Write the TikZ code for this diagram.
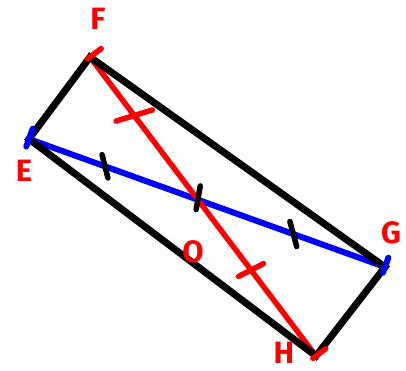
\documentclass[tikz,border=0pt]{standalone}
\usepackage{fontspec}
\setmainfont{Fira Sans}
\usetikzlibrary{calc}

\begin{document}
\begin{tikzpicture}[
    x=1bp, y=-1bp,
    side/.style={
        draw=black,
        line width=7bp,
        line join=miter,
        line cap=round
    },
    diagEG/.style={
        draw=blue,
        line width=6bp,
        line cap=round
    },
    diagFH/.style={
        draw=red,
        line width=5.5bp,
        line cap=round
    },
    tick/.style={
        draw=black,
        line width=5.5bp,
        line cap=round
    },
    vlabel/.style={
        text=red,
        font=\fontsize{31}{31}\selectfont\bfseries,
        inner sep=0pt
    }
]
\useasboundingbox (0,0) rectangle (406,371);

% Corners
\coordinate (E) at (29,139);
\coordinate (F) at (90,57);
\coordinate (G) at (385,267);
\coordinate (H) at (316,356);
\coordinate (O) at (intersection of E--G and F--H);

% Diagonals
\draw [diagEG] (E) -- (G);
\draw [diagFH] (F) -- (H);

% Rectangle
\draw [side] (E) -- (F) -- (G) -- (H) -- cycle;

% End marks
\draw [diagEG] ($(E)!11bp!90:(G)$) -- ($(E)!8bp!-90:(G)$);
\draw [diagEG] ($(G)!6bp!90:(E)$) -- ($(G)!10bp!-90:(E)$);
\draw [diagFH] ($(F)!14bp!90:(H)$) -- ($(F)!3bp!-90:(H)$);
\draw [diagFH] ($(H)!12bp!-90:(F)$) -- ($(H)!4bp!90:(F)$);

% Equal halves
\draw [tick] ($(E)!0.45!(O)!12bp!124:(O)$) -- ($(E)!0.45!(O)!12bp!-56:(O)$);
\draw [tick] ($(O)!0.51!(G)!13bp!125:(G)$) -- ($(O)!0.51!(G)!13bp!-55:(G)$);
\draw [tick] ($(O)!14bp!100:(G)$) -- ($(O)!10bp!-80:(G)$);
\draw [diagFH] ($(F)!0.41!(O)!19bp!70:(O)$) -- ($(F)!0.41!(O)!19bp!-110:(O)$);
\draw [diagFH] ($(O)!0.45!(H)!14bp!80:(H)$) -- ($(O)!0.45!(H)!14bp!-100:(H)$);

% Labels
\node (lF) [vlabel] at (98,19) {F};
\node (lE) [vlabel] at (24,171) {E};
\node (lG) [vlabel] at (391,233) {G};
\node (lH) [vlabel] at (284,353) {H};
\node (lO) [vlabel] at (193,252) {O};

\end{tikzpicture}
\end{document}
